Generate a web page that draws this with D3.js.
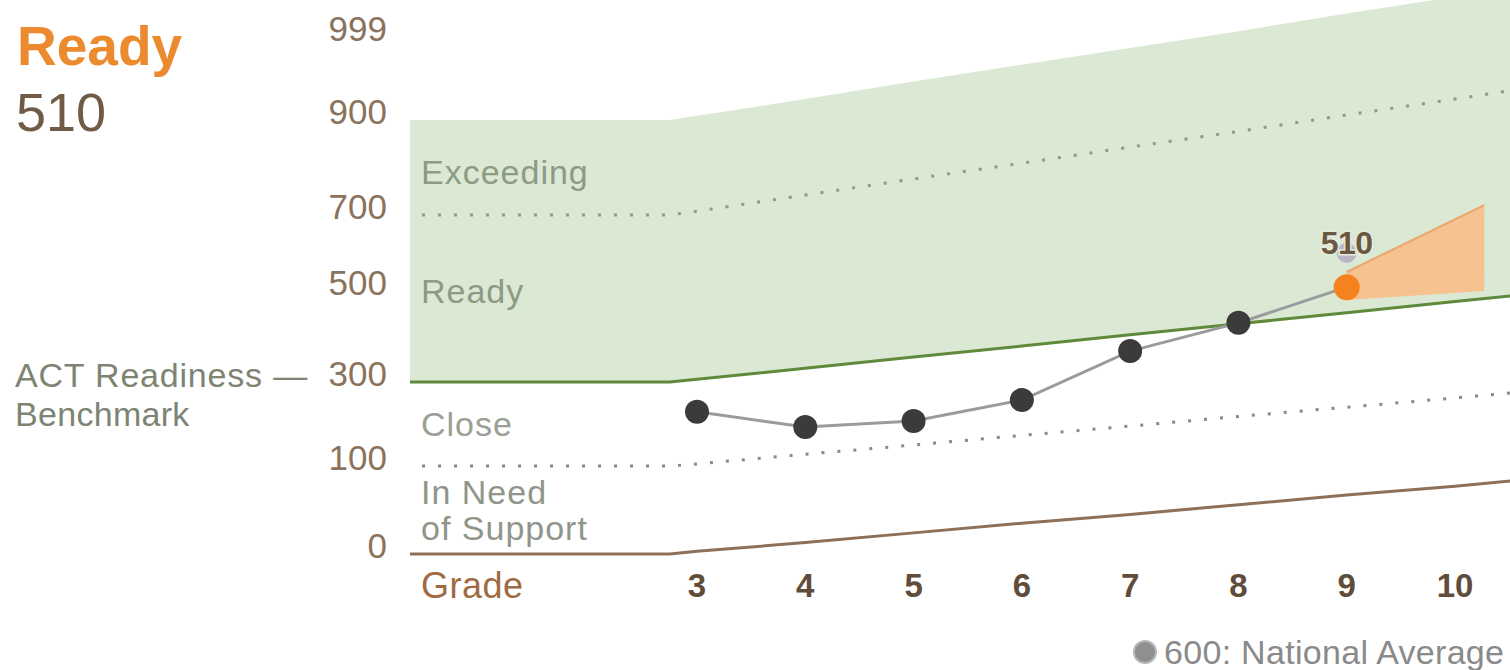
<!DOCTYPE html>
<html>
<head>
<meta charset="utf-8">
<script src="https://cdn.jsdelivr.net/npm/d3@7"></script>
<style>
  html, body { margin: 0; padding: 0; background: #ffffff; }
  svg { display: block; font-family: "Liberation Sans", Arial, sans-serif; }
</style>
</head>
<body>
<svg id="chart" width="1510" height="670"></svg>
<script>
// ---- data ----
const grades = [3, 4, 5, 6, 7, 8, 9, 10];
const gradeLabels = ["3", "4", "5", "6", "7", "8", "9", "10"];
const scoreGrades = [3, 4, 5, 6, 7, 8, 9];
const scores = [229, 193, 207, 257, 368, 430, 510];
const currentScoreLabel = "510";
const nationalAvgGrade = 9;
const nationalAvg = 600;
const yTicks = [0, 100, 300, 500, 700, 900, 999];
// band boundaries (left edge, start of slope, grades 3..10, right edge)
const bandPos = [0.35, 2.75, 3, 4, 5, 6, 7, 8, 9, 10, 10.51];
const bandFloor = [0, 0, 3, 13, 24, 35, 45, 56, 67, 77, 83];
const bandClose = [100, 100, 105, 128, 150, 173, 195, 218, 240, 262, 274];
const bandBenchmark = [300, 300, 306, 330, 355, 379, 404, 428, 452, 477, 489];
const bandExceeding = [700, 700, 708, 742, 776, 809, 843, 876, 906, 925, 935];
const bandTop = [900, 900, 905, 925, 946, 966, 986, 1006, 1027, 1047, 1057];
const bandNames = ["Exceeding", "Ready", "Close", "In Need", "of Support"];
// projection wedge
const projPos = [9, 10.27];
const projLow = [480, 500];
const projHigh = [550, 721];

// ---- scales ----
const svg = d3.select("#chart");
const x = d3.scaleLinear().domain([3, 10]).range([697, 1455]);
const y = d3.scaleLinear().domain(yTicks).range([554, 466, 382, 291, 215, 120, 37]);

const band = (arr) => bandPos.map((p, i) => [p, arr[i]]);

// green readiness area (benchmark to top)
const area = d3.area()
  .x(d => x(d[0]))
  .y0(d => y(d[1]))
  .y1(d => y(d[2]));
svg.append("path")
  .datum(bandPos.map((p, i) => [p, bandBenchmark[i], bandTop[i]]))
  .attr("d", area)
  .attr("fill", "#dbe8d3");

const line = d3.line().x(d => x(d[0])).y(d => y(d[1]));

// dotted band lines
[bandExceeding, bandClose].forEach((arr, k) => {
  svg.append("path")
    .datum(band(arr))
    .attr("d", line)
    .attr("fill", "none")
    .attr("stroke", k === 0 ? "#8f9a89" : "#8a8a8a")
    .attr("stroke-width", 3)
    .attr("stroke-dasharray", "3 13")
    .attr("stroke-dashoffset", 4);
});

// floor line
svg.append("path")
  .datum(band(bandFloor))
  .attr("d", line)
  .attr("fill", "none")
  .attr("stroke", "#8e6f58")
  .attr("stroke-width", 3);

// projection wedge
svg.append("path")
  .datum(projPos.map((p, i) => [p, projLow[i], projHigh[i]]))
  .attr("d", area)
  .attr("fill", "#f6c28f");
svg.append("path")
  .datum(projPos.map((p, i) => [p, projHigh[i]]))
  .attr("d", line)
  .attr("fill", "none")
  .attr("stroke", "#eaa66b")
  .attr("stroke-width", 2);

// benchmark line
svg.append("path")
  .datum(band(bandBenchmark))
  .attr("d", line)
  .attr("fill", "none")
  .attr("stroke", "#5f8a3c")
  .attr("stroke-width", 3);

// y axis labels
svg.append("g").selectAll("text")
  .data(yTicks)
  .join("text")
  .attr("x", 387)
  .attr("y", d => y(d) - 9)
  .attr("text-anchor", "end")
  .attr("dominant-baseline", "central")
  .attr("font-size", 35)
  .attr("fill", "#8a735d")
  .text(d => d);

// band labels
const bandLabelPos = [
  { v: 790, col: "#8d9a84" },
  { v: 500, col: "#8d9a84" },
  { v: 200, col: "#9aa094" },
  { v: 70, col: "#8f9689" },
  { v: 30, col: "#8f9689" }
];
svg.append("g").selectAll("text")
  .data(bandNames)
  .join("text")
  .attr("x", 421)
  .attr("y", (d, i) => y(bandLabelPos[i].v))
  .attr("dominant-baseline", "central")
  .attr("font-size", 34)
  .attr("letter-spacing", 1)
  .attr("fill", (d, i) => bandLabelPos[i].col)
  .text(d => d);

// benchmark annotation on left
svg.append("text")
  .attr("x", 15).attr("y", 375)
  .attr("dominant-baseline", "central")
  .attr("font-size", 34).attr("letter-spacing", 0.8)
  .attr("fill", "#7d8474")
  .text("ACT Readiness \u2014");
svg.append("text")
  .attr("x", 15).attr("y", 414)
  .attr("dominant-baseline", "central")
  .attr("font-size", 34).attr("letter-spacing", 0.3)
  .attr("fill", "#7d8474")
  .text("Benchmark");

// title
svg.append("text")
  .attr("x", 17).attr("y", 65)
  .attr("font-size", 55).attr("font-weight", "bold")
  .attr("fill", "#ec8a2f")
  .text("Ready");
svg.append("text")
  .attr("x", 16).attr("y", 131)
  .attr("font-size", 54)
  .attr("fill", "#6f5b46")
  .text(currentScoreLabel);

// score line
const pts = scoreGrades.map((g, i) => [g, scores[i]]);
svg.append("path")
  .datum(pts)
  .attr("d", line)
  .attr("fill", "none")
  .attr("stroke", "#9b9b9b")
  .attr("stroke-width", 3);

// national average marker
svg.append("circle")
  .attr("cx", x(nationalAvgGrade))
  .attr("cy", y(nationalAvg))
  .attr("r", 10)
  .attr("fill", "#b9b6c4");

// points
svg.append("g").selectAll("circle")
  .data(pts)
  .join("circle")
  .attr("cx", d => x(d[0]))
  .attr("cy", d => y(d[1]))
  .attr("r", (d, i) => i === pts.length - 1 ? 13 : 12)
  .attr("fill", (d, i) => i === pts.length - 1 ? "#f5821f" : "#3b3b3b");

// score label
const last = pts[pts.length - 1];
svg.append("text")
  .attr("x", x(last[0]))
  .attr("y", y(last[1]) - 44)
  .attr("text-anchor", "middle")
  .attr("dominant-baseline", "central")
  .attr("font-size", 32).attr("font-weight", "bold")
  .attr("letter-spacing", -0.5)
  .attr("fill", "#6b5843")
  .attr("stroke", "#e4eddd").attr("stroke-width", 3)
  .attr("paint-order", "stroke")
  .text(currentScoreLabel);

// x axis labels
svg.append("text")
  .attr("x", 421).attr("y", 585)
  .attr("dominant-baseline", "central")
  .attr("font-size", 36).attr("letter-spacing", 0.5)
  .attr("fill", "#a06b42")
  .text("Grade");
svg.append("g").selectAll("text")
  .data(grades)
  .join("text")
  .attr("x", d => x(d))
  .attr("y", 585)
  .attr("text-anchor", "middle")
  .attr("dominant-baseline", "central")
  .attr("font-size", 33).attr("font-weight", "bold")
  .attr("fill", "#5f4c3a")
  .text((d, i) => gradeLabels[i]);

// legend
svg.append("circle")
  .attr("cx", 1145).attr("cy", 652).attr("r", 11)
  .attr("fill", "#8f8f8f").attr("stroke", "#b5b5b5").attr("stroke-width", 2);
svg.append("text")
  .attr("x", 1164).attr("y", 652)
  .attr("dominant-baseline", "central")
  .attr("font-size", 34).attr("letter-spacing", 0.3)
  .attr("fill", "#8a8a8a")
  .text(nationalAvg + ": National Average");
</script>
</body>
</html>
